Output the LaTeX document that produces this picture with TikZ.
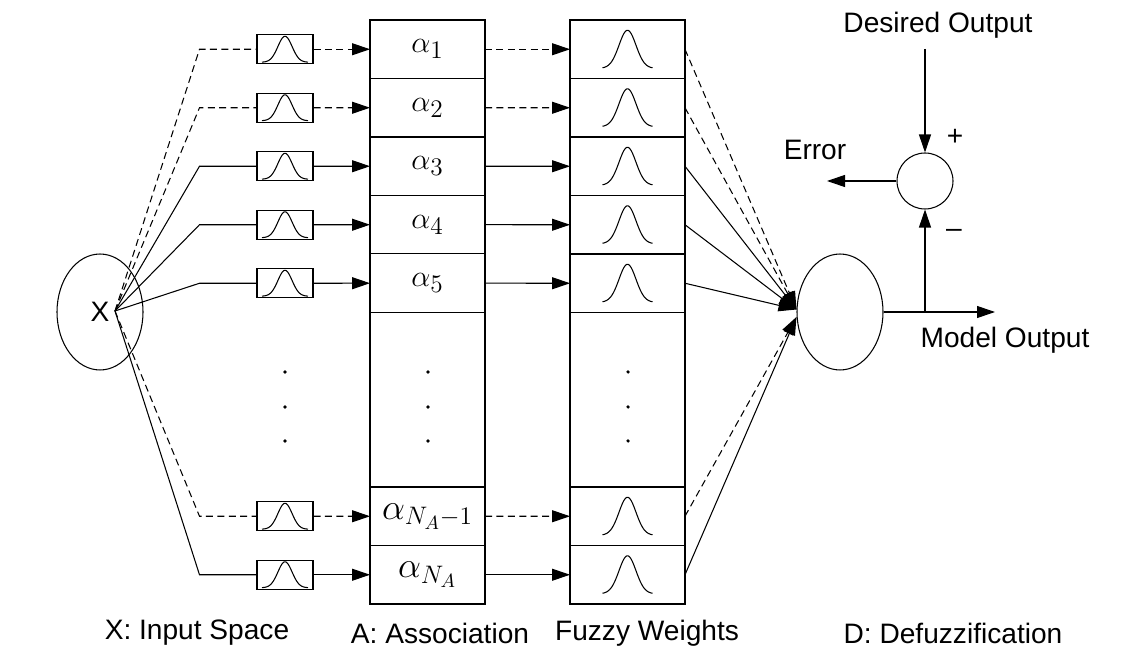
\documentclass[tikz,border=0pt]{standalone}
\usepackage{fontspec}
\setmainfont{Liberation Sans}
\usetikzlibrary{arrows.meta, positioning, shapes.geometric, calc}
\tikzset{
  cell/.style={draw=black, rectangle, minimum width=2.3cm, minimum height=1.17cm, inner sep=0pt, outer sep=0pt, line width=0.6pt, font=\fontsize{19}{22}\selectfont},
  bigcell/.style={cell, font=\fontsize{22}{25}\selectfont},
  filterbox/.style={draw=black, rectangle, minimum width=1.12cm, minimum height=0.58cm, inner sep=0pt, line width=0.6pt},
  space/.style={draw=black, ellipse, minimum width=1.72cm, minimum height=2.32cm, inner sep=0pt, line width=0.6pt, font=\fontsize{16}{19}\selectfont},
  sumnode/.style={draw=black, circle, minimum size=1.12cm, inner sep=0pt, line width=0.6pt},
  lbl/.style={font=\fontsize{16}{19}\selectfont, inner sep=0pt},
  link/.style={line width=0.6pt, draw=black},
  dashlink/.style={link, dash pattern=on 4pt off 2.5pt},
  arrow/.style={-{Triangle[length=0.36cm, width=0.24cm]}},
  smallbell/.pic={\draw[line width=0.6pt] plot[domain=-23:23, samples=50, smooth] (\x, {13-26*exp(-(\x/10)^2)});},
  bigbell/.pic={\draw[line width=0.6pt] plot[domain=-25:25, samples=50, smooth] (\x, {19-38*exp(-(\x/12)^2)});}
}

\begin{document}
\begin{tikzpicture}[x=0.02cm, y=-0.02cm]
\useasboundingbox (0,0) rectangle (1140,648);

% input space
\node[space] (xs) at (100,312) {X\hspace{0.2cm}};
\coordinate (src) at (115,311);

% association cells
\node[cell] (a1) at (427.5,49.25) {$\alpha_1$};
\node[cell, below=0pt of a1] (a2) {$\alpha_2$};
\node[cell, below=0pt of a2] (a3) {$\alpha_3$};
\node[cell, below=0pt of a3] (a4) {$\alpha_4$};
\node[cell, below=0pt of a4] (a5) {$\alpha_5$};
\node[bigcell] (a7) at (427.5,574.75) {$\alpha_{N_A}$};
\node[bigcell, above=0pt of a7] (a6) {$\alpha_{N_A-1}$};
\draw[link] (a5.south west) rectangle (a6.north east);

% fuzzy weights
\foreach \i/\y in {1/49.25, 2/107.75, 3/166.25, 4/224.75, 5/283.25, 6/516.25, 7/574.75}{
  \node[cell] (w\i) at (627.5,\y) {};
  \pic at (w\i) {bigbell};
  \node[filterbox] (f\i) at (285,\y) {};
  \pic at (f\i) {smallbell};
}
\draw[link] (w5.south west) rectangle (w6.north east);

% defuzzification
\node[space] (d) at (840,312) {};

\foreach \i/\st in {1/dashlink, 2/dashlink, 3/link, 4/link, 5/link}{
  \draw[\st] (src) -- ([xshift=-1.14cm]f\i.west) -- (f\i.west);
  \draw[\st, arrow] (f\i.east) -- (a\i.west);
  \draw[\st, arrow] (a\i.east) -- (w\i.west);
  \draw[\st, arrow] (w\i.east) -- ([yshift=0.05cm]d.west);
}
\foreach \i/\st in {6/dashlink, 7/link}{
  \draw[\st] (src) -- ([xshift=-1.14cm]f\i.west) -- (f\i.west);
  \draw[\st, arrow] (f\i.east) -- (a\i.west);
  \draw[\st, arrow] (a\i.east) -- (w\i.west);
  \draw[\st, arrow] (w\i.east) -- ([yshift=-0.1cm]d.west);
}

% dots
\foreach \x in {285,428,628}
  \foreach \y in {372,407,441}
    \fill (\x,\y) circle (1pt);

% error loop
\node[sumnode] (sum) at (925,181) {};
\coordinate (br) at (sum.south |- d.east);
\coordinate (out) at (995,312);
\coordinate (din) at (925,49);
\coordinate (err) at (827,181);
\draw[link, arrow] (d.east) -- (out);
\draw[link, arrow] (br) -- (sum.south);
\draw[link, arrow] (din) -- (sum.north);
\draw[link, arrow] (sum.west) -- (err);

\node[lbl] (desired) at (938,25) {Desired Output};
\node[lbl] (errlab) at (815,150) {Error};
\node[lbl] (plus) at (955,137) {+};
\node[lbl] (minus) at (954,233) {–};
\node[lbl] (model) at (1005,340) {Model Output};

% captions
\node[lbl] (capx) at (197,633) {X: Input Space};
\node[lbl] (capa) at (440,633) {A: Association};
\node[lbl] (capw) at (647,633) {Fuzzy Weights};
\node[lbl] (capd) at (953,633) {D: Defuzzification};

\end{tikzpicture}
\end{document}
